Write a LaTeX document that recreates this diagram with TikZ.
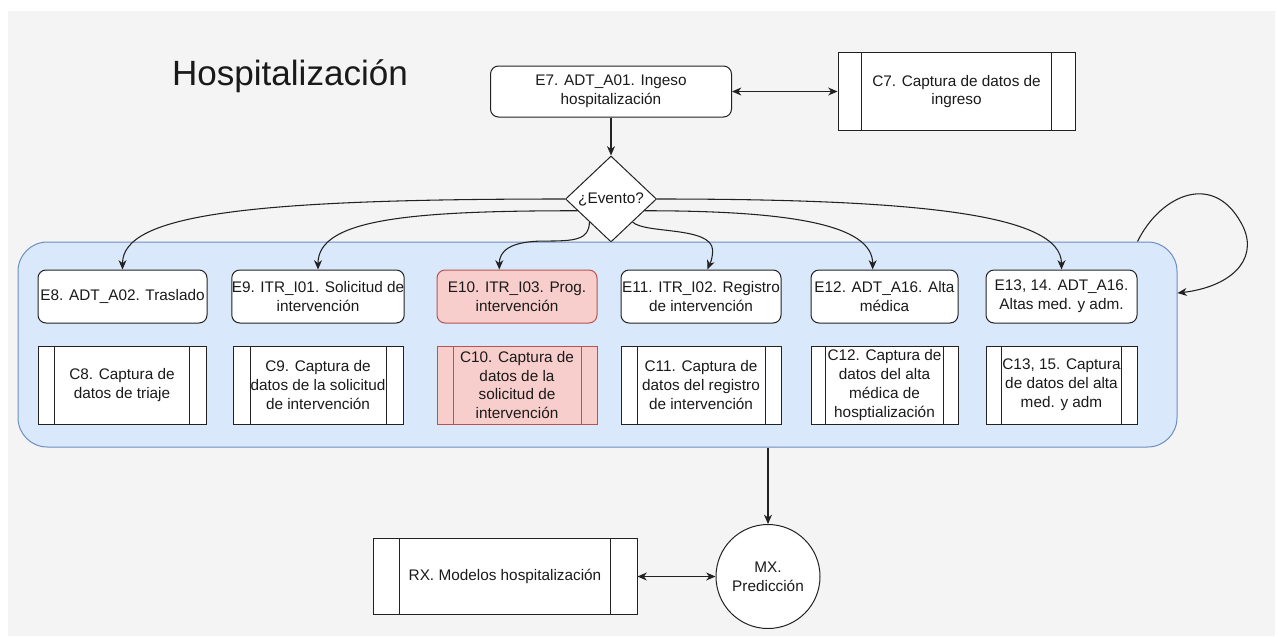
\documentclass[tikz,border=0pt]{standalone}
\usepackage{fontspec}
\setmainfont{Liberation Sans}
\usetikzlibrary{arrows.meta,shapes.geometric,calc}
\definecolor{bggray}{HTML}{F4F4F4}
\definecolor{grpfill}{HTML}{DAE8FC}
\definecolor{grpline}{HTML}{6C8EBF}
\definecolor{hotfill}{HTML}{F8CECC}
\definecolor{hotline}{HTML}{B85450}
\definecolor{ink}{HTML}{1A1A1A}
\definecolor{edge}{HTML}{222222}

\begin{document}
\begin{tikzpicture}[x=0.75pt,y=-0.75pt,
  >={Stealth[length=7pt,width=6pt,inset=2.2pt]},
  txt/.style={font=\fontsize{11.5}{14.2}\selectfont, text=ink, align=center, inner sep=0pt},
  sz/.style n args={2}{minimum width=#1*0.75pt, minimum height=#2*0.75pt},
  evbox/.style={txt, draw=edge, fill=white, line width=0.75pt, rounded corners=6pt},
  procbox/.style={txt, draw=#1, fill=white, line width=0.75pt,
    path picture={
      \draw[#1, line width=0.75pt]
        ($(path picture bounding box.north west)!0.1!(path picture bounding box.north east)$) --
        ($(path picture bounding box.south west)!0.1!(path picture bounding box.south east)$)
        ($(path picture bounding box.north west)!0.9!(path picture bounding box.north east)$) --
        ($(path picture bounding box.south west)!0.9!(path picture bounding box.south east)$);
    }},
  procbox/.default=edge,
  link/.style={->, line width=0.8pt, draw=edge},
  both/.style={<->, line width=0.8pt, draw=edge},
]
% canvas
\fill[white] (0,0) rectangle (1278,636);
\fill[bggray] (8,11) rectangle (1275,636);
\useasboundingbox (0,0) rectangle (1278,636);

% title
\node[font=\fontsize{26.3}{30}\selectfont, text=ink, inner sep=0pt] (title) at (290,76) {Hospitalización};

% admission and its capture
\node[evbox, sz={241}{51}] (e7) at (611,91.5) {E7. ADT\_A01. Ingeso\\hospitalización};
\node[procbox, sz={237}{78}] (c7) at (956.5,91.5) {C7. Captura de datos de\\ingreso};
\node[txt, diamond, draw=edge, fill=white, line width=0.75pt, sz={91}{86}] (dia) at (611,199) {¿Evento?};

% event group
\node[draw=grpline, fill=grpfill, line width=0.75pt, rounded corners=22pt, inner sep=0pt, sz={1159}{205}] (grp) at (597.5,344.5) {};

\node[evbox, sz={169}{53}] (e8) at (122.5,296.5) {E8. ADT\_A02. Traslado};
\node[evbox, sz={170}{53}] (e9) at (318,296.5) {E9. ITR\_I01. Solicitud de\\intervención};
\node[evbox, sz={160}{53}, fill=hotfill, draw=hotline] (e10) at (517,296.5) {E10. ITR\_I03. Prog.\\intervención};
\node[evbox, sz={160}{53}] (e11) at (701,296.5) {E11. ITR\_I02. Registro\\de intervención};
\node[evbox, sz={147}{53}] (e12) at (884.5,296.5) {E12. ADT\_A16. Alta\\médica};
\node[evbox, sz={151}{53}] (e13) at (1061.5,296.5) {E13, 14. ADT\_A16.\\Altas med. y adm.};

\node[procbox, sz={168}{78}] (c8) at (122,385) {C8. Captura de\\datos de triaje};
\node[procbox, sz={170}{78}] (c9) at (318,385) {C9. Captura de\\datos de la solicitud\\de intervención};
\node[procbox=hotline, fill=hotfill, sz={160}{78}] (c10) at (517,385) {C10. Captura de\\datos de la\\solicitud de\\intervención};
\node[procbox, sz={160}{78}] (c11) at (701,385) {C11. Captura de\\datos del registro\\de intervención};
\node[procbox, sz={147}{78}] (c12) at (884.5,385) {C12. Captura de\\datos del alta\\médica de\\hosptialización};
\node[procbox, sz={151}{78}] (c13) at (1061.5,385) {C13, 15. Captura\\de datos del alta\\med. y adm};

% prediction
\node[txt, circle, draw=edge, fill=white, line width=0.75pt, minimum size=104*0.75pt] (mx) at (768,576.5) {MX.\\Predicción};
\node[procbox, sz={264}{76}] (rx) at (505,576.5) {RX. Modelos hospitalización};

% anchor points on the decision diamond and on the event boxes
\coordinate (s9)  at ($(dia.west)!0.27!(dia.south)$);
\coordinate (s10) at ($(dia.west)!0.53!(dia.south)$);
\coordinate (s11) at ($(dia.east)!0.53!(dia.south)$);
\coordinate (s12) at ($(dia.east)!0.27!(dia.south)$);
\coordinate (t10) at ($(e10.north west)!0.39!(e10.north east)$);
\coordinate (t11) at ($(e11.north west)!0.54!(e11.north east)$);
\coordinate (t12) at ($(e12.north west)!0.42!(e12.north east)$);
\coordinate (loopA) at ([xshift=-30pt]grp.north east);
\coordinate (loopB) at ([yshift=38.6pt]grp.east);

% connectors
\draw[both] (e7) -- (c7);
\draw[link] (e7) -- (dia);
\draw[link] (dia.west) .. controls +(-317,0) and +(0,-55) .. (e8.north);
\draw[link] (s9) .. controls +(-170,0) and +(0,-50) .. (e9.north);
\draw[link] (s10) .. controls +(0,18) and +(30,0) .. ++(-45,19)
                  .. controls +(-35,0) and +(0,-18) .. (t10);
\draw[link] (s11) .. controls +(12,12) and +(-1,-24) .. ++(80,28)
                  .. controls +(0,10) and +(2,-5) .. (t11);
\draw[link] (s12) .. controls +(145,0) and +(0,-45) .. (t12);
\draw[link] (dia.east) .. controls +(263,0) and +(0,-55) .. (e13.north);
\draw[link] (loopA) .. controls +(23,-47) and +(-28,-58) .. ++(106,-14)
                    .. controls +(15,34) and +(51,-6) .. (loopB);
\draw[link] (grp.south -| mx) -- (mx);
\draw[both] (rx) -- (mx);
\end{tikzpicture}
\end{document}
